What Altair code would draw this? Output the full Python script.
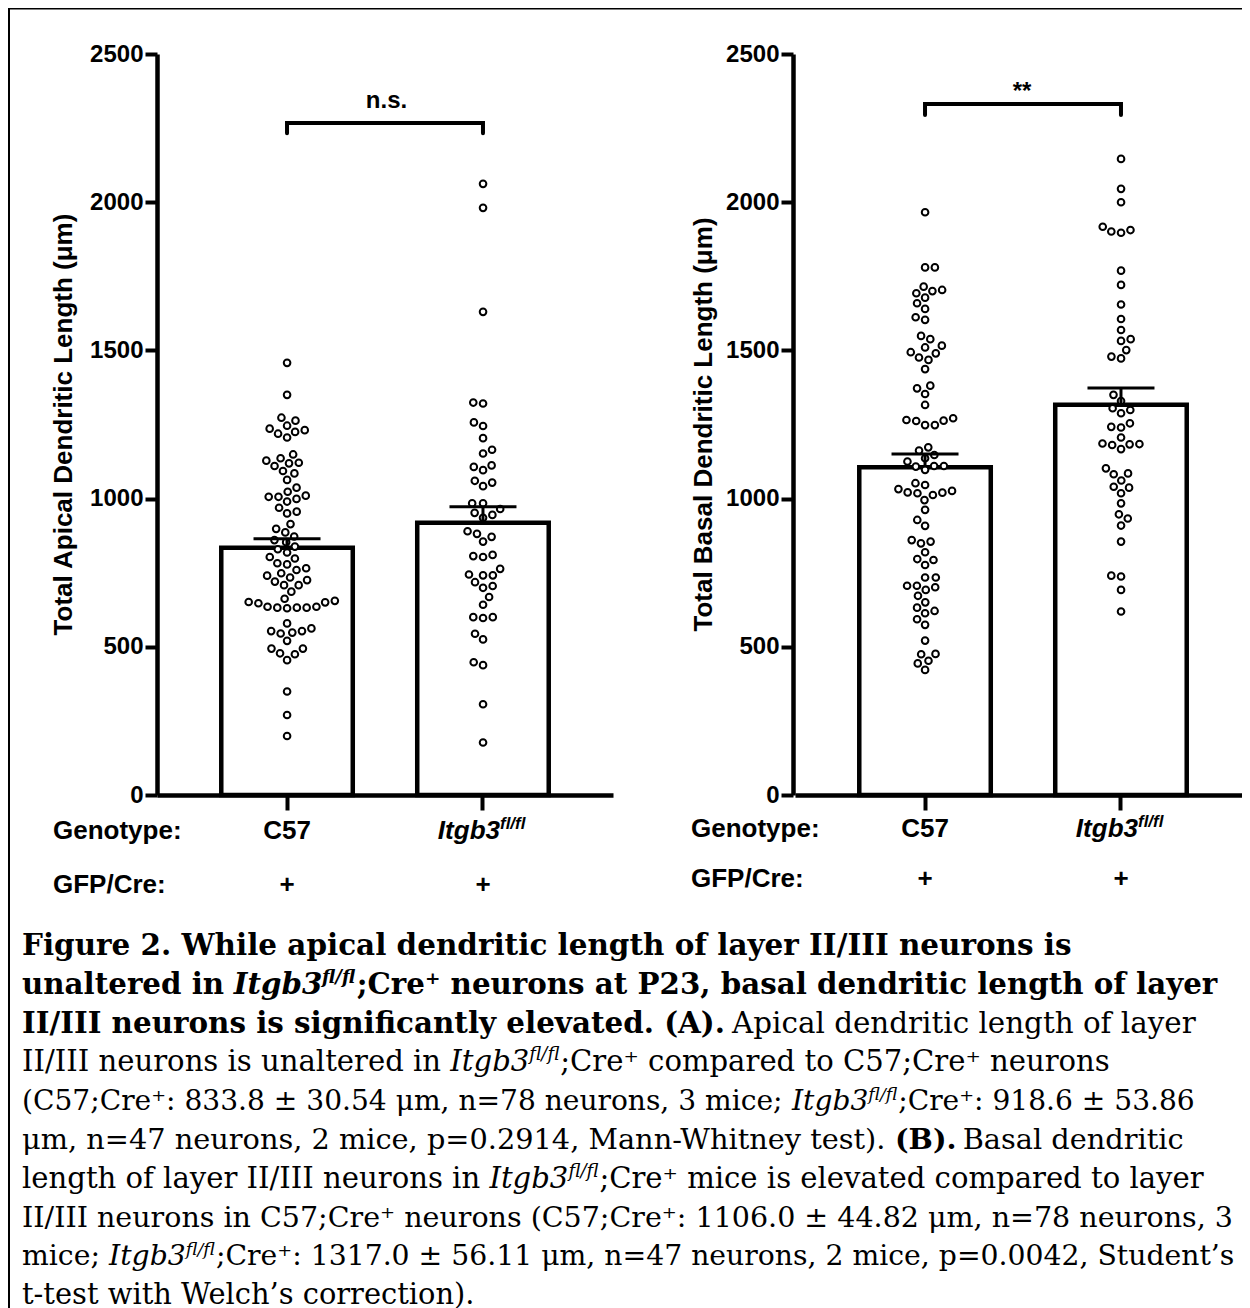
import math
import altair as alt
import pandas as pd

# ---------------- data ----------------
groups = ["C57", "Itgb3"]

apical_c57 = [1458, 1350,
              1273, 1263, 1246, 1236, 1225, 1219, 1231, 1206,
              1149, 1136, 1128, 1119, 1110, 1121, 1093, 1085,
              1063, 1037, 1023, 1006, 999, 990, 1006, 1010, 969, 950, 956,
              914, 898, 886, 872, 860, 853,
              838, 829, 818,
              798, 803, 782, 765, 778, 759, 748,
              740, 734, 720, 725, 708, 708, 686,
              662, 651, 647, 635, 632, 630, 632, 632, 635, 650, 655,
              579, 553, 548, 545, 553, 562, 520, 494, 475, 478, 494, 455,
              349, 270, 199]
apical_itgb3 = [2062, 1981, 1630,
                1324, 1321, 1245, 1257, 1204, 1152, 1165,
                1107, 1096, 1112, 1060, 1042, 1054,
                984, 984, 952, 965, 935, 945,
                890, 871, 855, 881,
                810, 803, 806,
                763, 741, 741, 744,
                718, 699, 705,
                668, 642,
                600, 597, 600,
                544, 525,
                438, 448,
                306, 177]
basal_c57 = [1966,
             1780, 1780,
             1704, 1715, 1693, 1700, 1678, 1659,
             1640, 1612, 1603,
             1549, 1538, 1516, 1510, 1494, 1490, 1468, 1476, 1437,
             1381, 1372, 1353, 1316,
             1265, 1262, 1248, 1248, 1263, 1271,
             1162, 1173, 1147, 1136, 1125,
             1110, 1108, 1097, 1110,
             1032, 1021, 1046, 1018, 1052, 1012, 995, 1020, 1026,
             962, 928, 908,
             855, 849, 860, 819, 796, 776, 793,
             734, 734, 706, 692, 701, 706, 672, 650,
             632, 613, 621, 593, 574,
             521,
             475, 476, 453, 444, 422]
basal_itgb3 = [2146, 2045, 2000,
               1906, 1897, 1901, 1917,
               1769, 1721,
               1655, 1606, 1569, 1532, 1538,
               1479, 1473, 1501,
               1350, 1329,
               1299, 1288, 1305,
               1254, 1240, 1242,
               1186, 1183, 1206, 1167, 1181, 1184,
               1085, 1102, 1082, 1061, 1037, 1040, 1018,
               984, 947, 933, 909,
               855,
               737, 740, 692,
               619]

apical_mean = [833.8, 918.6]
apical_sem = [30.54, 53.86]
basal_mean = [1106.0, 1317.0]
basal_sem = [44.82, 56.11]

bracket_apical = [2233, 2267]
bracket_basal = [2294, 2331]

sig_labels = ["n.s.", "**"]
y_titles = ["Total Apical Dendritic Length (\u03bcm)", "Total Basal Dendritic Length (\u03bcm)"]
row_labels = ["Genotype:", "GFP/Cre:"]

caption_lines = [
    [("Figure 2. While apical dendritic length of layer II/III neurons is", "b")],
    [("unaltered in ", "b"), ("Itgb3", "bi"), ("fl/fl", "bisup"),
     (";Cre\u207a neurons at P23, basal dendritic length of layer", "b")],
    [("II/III neurons is significantly elevated. (A).", "b"),
     (" Apical dendritic length of layer", "n")],
    [("II/III neurons is unaltered in ", "n"), ("Itgb3", "i"), ("fl/fl", "isup"),
     (";Cre\u207a compared to C57;Cre\u207a neurons", "n")],
    [("(C57;Cre\u207a: 833.8 \u00b1 30.54 \u03bcm, n=78 neurons, 3 mice; ", "n"), ("Itgb3", "i"),
     ("fl/fl", "isup"), (";Cre\u207a: 918.6 \u00b1 53.86", "n")],
    [("\u03bcm, n=47 neurons, 2 mice, p=0.2914, Mann-Whitney test). ", "n"), ("(B).", "b"),
     (" Basal dendritic", "n")],
    [("length of layer II/III neurons in ", "n"), ("Itgb3", "i"), ("fl/fl", "isup"),
     (";Cre\u207a mice is elevated compared to layer", "n")],
    [("II/III neurons in C57;Cre\u207a neurons (C57;Cre\u207a: 1106.0 \u00b1 44.82 \u03bcm, n=78 neurons, 3", "n")],
    [("mice; ", "n"), ("Itgb3", "i"), ("fl/fl", "isup"),
     (";Cre\u207a: 1317.0 \u00b1 56.11 \u03bcm, n=47 neurons, 2 mice, p=0.0042, Student\u2019s", "n")],
    [("t-test with Welch\u2019s correction).", "n")],
]
# per-line size factors so that each line ends where the reference line ends
line_fit = [1.033, 1.028, 1.03, 1.021, 0.986, 1.010, 1.021, 1.001, 0.992, 1.014]

# ---------------- layout constants ----------------
W, H = 456, 741
PAD_L, PAD_T = 149, 46
SVG_W, SVG_H = 1234, 1300
SANS = "Liberation Sans"
SERIF = "DejaVu Serif"
PX_PER_UNIT = H / 2500.0


def swarm(vals, d=9.8):
    ys = [v * PX_PER_UNIT for v in vals]
    order = sorted(range(len(vals)), key=lambda i: ys[i])
    placed = []
    xs = [0.0] * len(vals)
    flip = 1
    for i in order:
        y = ys[i]
        near = [(px, py) for px, py in placed if abs(py - y) < d]
        cands = [0.0]
        for px, py in near:
            dx = math.sqrt(max(d * d - (py - y) ** 2, 0.0))
            cands += [px - dx, px + dx]

        def ok(x):
            return all((x - px) ** 2 + (y - py) ** 2 >= d * d - 1e-6 for px, py in near)

        valid = [c for c in cands if ok(c)]
        best = min(valid, key=lambda c: (round(abs(c), 3), -flip * c))
        flip = -flip
        xs[i] = best
        placed.append((best, y))
    return xs


def panel(vals_by_group, means, sems, bracket, ytitle, x_range, axis_offset,
          title_x, lab_y, sup_y, plus_y):
    kw = dict(domain=groups, paddingInner=0.327, paddingOuter=0.327)
    if x_range is not None:
        kw["range"] = x_range
    xs = alt.Scale(**kw)
    ys = alt.Scale(domain=[0, 2500], nice=False, zero=True)
    xax = alt.Axis(orient="bottom", labels=False, ticks=True, tickSize=15, tickWidth=4,
                   tickColor="black", domainWidth=4.5, domainColor="black", grid=False,
                   title=None)
    yax = alt.Axis(orient="left", offset=axis_offset, values=[0, 500, 1000, 1500, 2000, 2500],
                   format="d", titleX=title_x, titleY=370, titleAngle=270,
                   titleAlign="center", titleBaseline="middle", titleFont=SANS,
                   titleFontSize=26, titleFontWeight="bold", titleColor="black",
                   labelFont=SANS, labelFontSize=24, labelFontWeight="bold",
                   labelColor="black", labelPadding=2, labelFlush=False, labelOverlap=False,
                   tickSize=12, tickWidth=4, tickColor="black", domainWidth=4.5,
                   domainColor="black", grid=False)

    def X():
        return alt.X("group:N", scale=xs, axis=xax, title=None)

    def Y(f):
        return alt.Y(f, scale=ys, axis=yax, title=ytitle)

    summ = pd.DataFrame({"group": groups, "mean": means,
                         "hi": [m + s for m, s in zip(means, sems)]})
    rows = []
    for g, vals in zip(groups, vals_by_group):
        offs = swarm(vals)
        rows += [{"group": g, "value": v, "off": o} for v, o in zip(vals, offs)]
    pts_df = pd.DataFrame(rows)
    br_df = pd.DataFrame({"group": [groups[0], groups[0], groups[1], groups[1]],
                          "val": [bracket[0], bracket[1], bracket[1], bracket[0]],
                          "ord": [0, 1, 2, 3]})
    lab_df = pd.DataFrame({"group": groups, "name": ["C57", "Itgb3"],
                           "sup": ["", "fl/fl"], "plus": ["+", "+"]})

    bars = alt.Chart(summ).mark_bar(fill="white", stroke="black", strokeWidth=4.5,
                                    strokeJoin="miter", width=131.5).encode(
        x=X(), y=Y("mean:Q"))
    pts = alt.Chart(pts_df).mark_circle(size=44, fill="white", stroke="black",
                                         strokeWidth=2, opacity=1).encode(
        x=X(),
        xOffset=alt.XOffset("off:Q", scale=alt.Scale(domain=[-66, 66], range=[0, 132])),
        y=Y("value:Q"))
    err = alt.Chart(summ).mark_rule(color="black", strokeWidth=3).encode(
        x=X(), y=Y("mean:Q"), y2="hi:Q")
    cap = alt.Chart(summ).mark_tick(color="black", size=67, thickness=3, opacity=1).encode(
        x=X(), y=Y("hi:Q"))
    br = alt.Chart(br_df).mark_line(color="black", strokeWidth=4, strokeCap="round",
                                    strokeJoin="miter").encode(
        x=X(), y=Y("val:Q"), order="ord:Q")

    c57 = alt.Chart(lab_df).transform_filter("datum.group == 'C57'").mark_text(
        font=SANS, fontSize=26, fontWeight="bold", color="black", baseline="alphabetic",
        align="center").encode(x=X(), y=alt.value(lab_y), text="name:N")
    itg = alt.Chart(lab_df).transform_filter("datum.group == 'Itgb3'").mark_text(
        font=SANS, fontSize=26, fontWeight="bold", fontStyle="italic", color="black",
        baseline="alphabetic", align="right", dx=17).encode(
        x=X(), y=alt.value(lab_y), text="name:N")
    sup = alt.Chart(lab_df).transform_filter("datum.group == 'Itgb3'").mark_text(
        font=SANS, fontSize=17, fontWeight="bold", fontStyle="italic", color="black",
        baseline="alphabetic", align="left", dx=17).encode(
        x=X(), y=alt.value(sup_y), text="sup:N")
    plus = alt.Chart(lab_df).mark_text(
        font=SANS, fontSize=26, fontWeight="bold", color="black", baseline="alphabetic",
        align="center").encode(x=X(), y=alt.value(plus_y), text="plus:N")

    return alt.layer(bars, pts, err, cap, br, c57, itg, sup, plus)


left = panel([apical_c57, apical_itgb3], apical_mean, apical_sem, bracket_apical,
             y_titles[0], None, 0, -94, 785, 775, 839)
right = panel([basal_c57, basal_itgb3], basal_mean, basal_sem, bracket_basal,
              y_titles[1], [638, 1094], -636, -90, 783, 773, 833)

# ---------- annotation texts (pixel placement relative to plot origin) ----------
ann_df = pd.DataFrame({
    "px": [53 - 157, 53 - 157, 691 - 157, 691 - 157],
    "py": [839 - 54, 893 - 54, 837 - 54, 887 - 54],
    "txt": [row_labels[0], row_labels[1], row_labels[0], row_labels[1]],
})
ann = alt.Chart(ann_df).mark_text(font=SANS, fontSize=26, fontWeight="bold", color="black",
                                  align="left", baseline="alphabetic").encode(
    x=alt.X("px:Q", scale=None, axis=None), y=alt.Y("py:Q", scale=None, axis=None),
    text="txt:N")

sig_df = pd.DataFrame({"px": [386.5 - 157, 1022 - 157], "py": [108 - 54, 99 - 54],
                       "txt": sig_labels})
sig = alt.Chart(sig_df).mark_text(font=SANS, fontSize=24, fontWeight="bold", color="black",
                                  align="center", baseline="alphabetic").encode(
    x=alt.X("px:Q", scale=None, axis=None), y=alt.Y("py:Q", scale=None, axis=None),
    text="txt:N")

# ---------- caption ----------
CW = {" ": .318, "(": .390, ")": .390, "+": .838, ",": .318, "-": .338, ".": .318,
      "/": .337, ":": .337, ";": .337, "=": .838, "\u00b1": .838, "\u03bc": .659,
      "\u2019": .318, "\u207a": .53,
      "A": .722, "B": .735, "C": .765, "D": .828, "E": .728, "F": .680, "G": .776,
      "H": .855, "I": .393, "M": .952, "N": .830, "P": .667, "S": .678, "T": .694,
      "W": 1.034,
      "a": .598, "b": .642, "c": .563, "d": .642, "e": .592, "f": .370, "g": .642,
      "h": .644, "i": .320, "k": .611, "l": .320, "m": .948, "n": .644, "o": .602,
      "p": .642, "r": .479, "s": .513, "t": .402, "u": .644, "v": .566, "w": .829,
      "x": .565, "y": .566, "z": .525}
for dgt in "0123456789":
    CW[dgt] = .636

BASE = 28.5
STY = {
    "n": dict(rel=1.0, weight="normal", style="normal", rise=0.0, wf=1.0),
    "b": dict(rel=1.0, weight="bold", style="normal", rise=0.0, wf=1.11),
    "i": dict(rel=1.0, weight="normal", style="italic", rise=0.0, wf=1.0),
    "bi": dict(rel=1.0, weight="bold", style="italic", rise=0.0, wf=1.11),
    "isup": dict(rel=0.62, weight="normal", style="italic", rise=0.38, wf=1.0),
    "bisup": dict(rel=0.62, weight="bold", style="italic", rise=0.38, wf=1.11),
}


def tw(text, st, size):
    s = STY[st]
    return sum(CW.get(c, 0.6) for c in text) * s["wf"] * size * s["rel"]


cap_rows = []
for li, segs in enumerate(caption_lines):
    size = BASE * line_fit[li]
    x = 22 - 157
    y = 955 + 38.8 * li - 54
    for text, st in segs:
        lead = len(text) - len(text.lstrip(" "))
        cap_rows.append({"px": x + tw(" " * lead, st, size),
                         "py": y - STY[st]["rise"] * size,
                         "txt": text.strip(" "), "st": st,
                         "fs": round(size * STY[st]["rel"], 2)})
        x += tw(text, st, size)
cap_df = pd.DataFrame(cap_rows)

cap_layers = []
for st, s in STY.items():
    cap_layers.append(
        alt.Chart(cap_df).transform_filter(f"datum.st == '{st}'").mark_text(
            font=SERIF, fontWeight=s["weight"], fontStyle=s["style"],
            color="black", align="left", baseline="alphabetic").encode(
            x=alt.X("px:Q", scale=None, axis=None), y=alt.Y("py:Q", scale=None, axis=None),
            size=alt.Size("fs:Q", scale=None, legend=None),
            text="txt:N"))

# ---------- frame ----------
one = alt.Data(values=[{"k": 1}])
frame_l = alt.Chart(one).mark_rule(color="black", strokeWidth=2).encode(
    x=alt.value(-148), y=alt.value(-46), y2=alt.value(1260))
frame_t = alt.Chart(one).mark_rule(color="black", strokeWidth=2).encode(
    x=alt.value(-149), x2=alt.value(1093), y=alt.value(-45.5))

chart = alt.layer(left, right, ann, sig, frame_l, frame_t, *cap_layers).resolve_scale(
    x="independent", y="independent"
).properties(
    width=W, height=H,
    padding={"left": PAD_L, "top": PAD_T, "right": SVG_W - PAD_L - W,
             "bottom": SVG_H - PAD_T - H},
    autosize=alt.AutoSizeParams(type="none"),
    background="white",
).configure_view(stroke=None)

chart.save("out.html", embed_options={"renderer": "svg", "actions": False})
